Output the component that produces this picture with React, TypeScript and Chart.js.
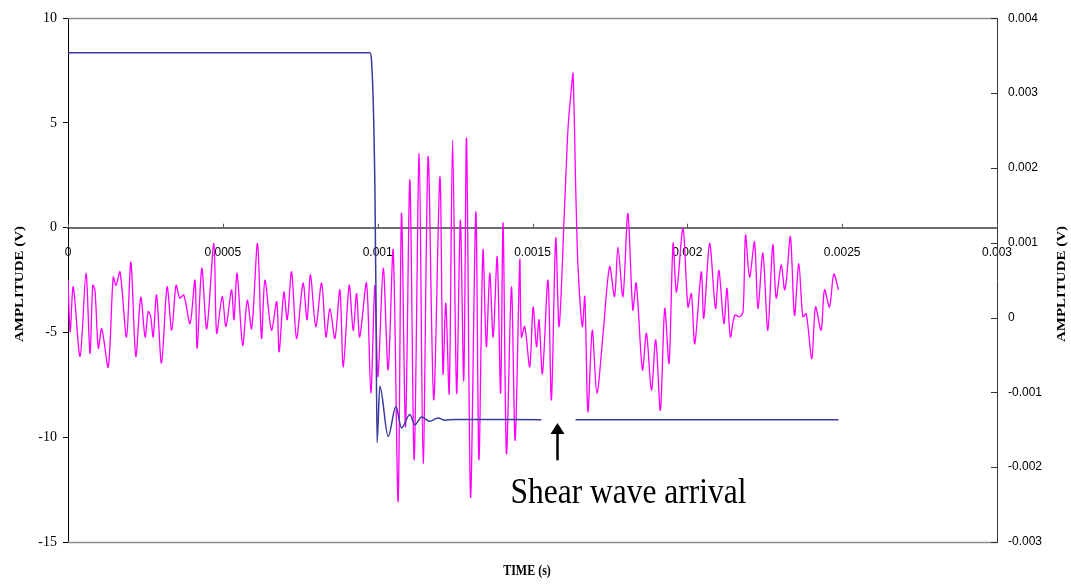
import React, { useEffect, useRef } from "react";
import { Chart, registerables } from "chart.js";

Chart.register(...registerables);

// ---- data ----
const xTickValues = [0, 0.0005, 0.001, 0.0015, 0.002, 0.0025, 0.003];
const xTickLabels = ["0", "0.0005", "0.001", "0.0015", "0.002", "0.0025", "0.003"];
const leftTickLabels = ["-15", "-10", "-5", "0", "5", "10"];
const rightTickLabels = ["-0.003", "-0.002", "-0.001", "0", "0.001", "0.002", "0.003", "0.004"];

// Trigger (blue) signal, left axis (V); time in microseconds
const blueTimeUs = [0, 975, 980, 991, 994, 998, 1007, 1034, 1059, 1077, 1104, 1120, 1142, 1168, 1195, 1217, 1249, 1529, 1584, 1639, 2488];
const blueVolts = [8.35, 8.35, 8.0, 1.97, -2.48, -10.26, -7.57, -9.96, -8.53, -9.56, -8.92, -9.4, -9.03, -9.24, -9.08, -9.19, -9.15, -9.16, null, -9.16, -9.16];

// Received (magenta) signal, right axis; time in microseconds, values in mV
const pinkTimeUs = [
  0, 7, 17, 39, 58, 71, 80, 87, 98, 109, 130, 146, 155, 168, 189, 203, 219, 235, 249, 259, 267, 275, 286, 302, 320,
  335, 349, 361, 374, 394, 410, 417, 432, 448, 471, 480, 498, 510, 528, 536, 546, 564, 579, 593, 612,
  625, 636, 657, 674, 682, 697, 708, 722, 738, 759, 772, 783, 800, 819, 833, 846, 862, 878, 889, 908, 921, 932, 942, 964,
  978, 991, 1001, 1018, 1034, 1050, 1066, 1077, 1090, 1104, 1118, 1134, 1147, 1163, 1181, 1201, 1211, 1220, 1231, 1242,
  1255, 1267, 1278, 1287, 1300, 1317, 1327, 1340, 1351, 1362, 1373, 1386, 1397, 1405, 1416, 1432, 1444,
  1459, 1464, 1475, 1491, 1502, 1513, 1521, 1532, 1550, 1561, 1575, 1586, 1604, 1615, 1626, 1631, 1640, 1647, 1661, 1669,
  1679, 1693, 1708, 1728, 1749, 1765, 1776, 1792, 1808, 1824, 1835, 1855, 1868, 1884, 1898, 1913,
  1927, 1941, 1954, 1965, 1986, 2002, 2013, 2024, 2045, 2053, 2072, 2091, 2102, 2118, 2128, 2139, 2153, 2169, 2180, 2188,
  2201, 2217, 2228, 2244, 2260, 2276, 2287, 2303, 2314, 2320, 2333, 2346, 2360, 2373, 2384, 2402, 2414, 2432, 2443, 2459,
  2473, 2488,
];
const pinkMilliVolts = [
  0.5, -0.19, 0.41, -0.52, 0.59, -0.48, 0.43, 0.37, -0.41, -0.15, -0.66, 0.54, 0.43, 0.61, -0.26, 0.74, -0.52, 0.27, -0.26, 0.08, 0.01, -0.26, 0.3, -0.61, 0.41,
  -0.17, 0.43, 0.26, 0.3, -0.08, 0.5, -0.41, 0.66, -0.15, 0.99, -0.21, 0.28, -0.12, 0.37, -0.03, 0.59, -0.37, 0.23, -0.15, 0.99,
  -0.28, 0.5, -0.17, 0.21, -0.46, 0.34, -0.03, 0.61, -0.28, 0.46, -0.03, 0.57, -0.12, 0.46, -0.26, 0.12, -0.28, 0.37, -0.66, 0.43, -0.17, 0.32, -0.26, 0.46,
  -1.01, 0.43, -0.79, 0.66, -0.7, 0.9, -2.46, 1.39, -1.46, 1.84, -1.9, 2.19, -1.95, 2.15, -1.1, 1.88, -0.75, 0.19, -1.01, 2.37,
  -1.01, 1.3, -0.84, 2.39, -2.4, 1.41, -1.9, 0.9, -0.39, 0.59, -0.26, 0.81, -1.01, 1.26, -1.82, 0.41, -1.64,
  0.77, -0.26, -0.12, -0.66, 0.14, -0.39, -0.03, -0.75, 0.5, -1.1, 1.06, -0.12, 1.52, 2.55, 3.08, 3.26, 1.66, 0.68, -0.12, 0.28,
  -1.26, -0.17, -1.01, -0.21, 0.68, 0.28, 0.94, 0.28, 1.39, 0.1, 0.46, -0.7, -0.21, -0.97, -0.3, -1.24,
  0.12, -0.61, 0.99, 0.34, 1.19, 0.14, 0.32, -0.35, 0.61, -0.01, 0.99, 0.12, 0.63, -0.08, 0.39, -0.26, 0.03, 0.01, 0.08, 1.1,
  0.54, 1.01, 0.12, 0.86, -0.17, 0.97, 0.26, 0.7, 0.37, 0.5, 1.08, 0.03, 0.72, 0.01, 0.05, -0.55, 0.14, -0.17, 0.37, 0.14,
  0.58, 0.37,
];

// annotation (in data units of x / left y axis)
const arrowTime = 0.00158;
const arrowTipV = -9.32;
const arrowTailV = -11.1;
const noteTime = 0.00181;
const noteV = -13.14;
const noteText = "Shear wave arrival";

const W = 1071;
const H = 585;

const decorPlugin = {
  id: "decor",
  afterDraw(chart: any) {
    const ctx = chart.ctx as CanvasRenderingContext2D;
    const { left, right, top, bottom } = chart.chartArea;
    const xs = chart.scales.x;
    const ys = chart.scales.y;
    const y1 = chart.scales.y1;
    ctx.save();

    // frame top / bottom
    ctx.strokeStyle = "#8c8c8c";
    ctx.lineWidth = 1.5;
    ctx.beginPath();
    ctx.moveTo(left, Math.round(top) + 0.5);
    ctx.lineTo(right, Math.round(top) + 0.5);
    ctx.moveTo(left, Math.round(bottom) + 0.5);
    ctx.lineTo(right, Math.round(bottom) + 0.5);
    ctx.stroke();

    // x ticks pointing up from the zero line
    const zero = ys.getPixelForValue(0);
    ctx.strokeStyle = "#555";
    ctx.lineWidth = 1;
    ctx.beginPath();
    xs.ticks.forEach((t: any) => {
      const px = Math.round(xs.getPixelForValue(t.value)) + 0.5;
      ctx.moveTo(px, zero);
      ctx.lineTo(px, zero - 4);
    });
    ctx.stroke();

    // right axis ticks pointing inward
    ctx.strokeStyle = "#333";
    ctx.beginPath();
    y1.ticks.forEach((t: any) => {
      const py = Math.round(y1.getPixelForValue(t.value)) + 0.5;
      ctx.moveTo(right, py);
      ctx.lineTo(right - 6, py);
    });
    ctx.stroke();

    // arrow
    const ax = Math.round(xs.getPixelForValue(arrowTime)) + 0.5;
    const tipY = ys.getPixelForValue(arrowTipV);
    const tailY = ys.getPixelForValue(arrowTailV);
    ctx.strokeStyle = "#000";
    ctx.fillStyle = "#000";
    ctx.lineWidth = 2.5;
    ctx.beginPath();
    ctx.moveTo(ax, tipY + 8);
    ctx.lineTo(ax, tailY);
    ctx.stroke();
    ctx.beginPath();
    ctx.moveTo(ax, tipY);
    ctx.lineTo(ax - 7, tipY + 11);
    ctx.lineTo(ax + 7, tipY + 11);
    ctx.closePath();
    ctx.fill();

    // annotation text
    ctx.save();
    ctx.translate(xs.getPixelForValue(noteTime), ys.getPixelForValue(noteV));
    ctx.scale(0.874, 1);
    ctx.font = '36px "Liberation Serif", "Times New Roman", serif';
    ctx.textAlign = "center";
    ctx.textBaseline = "alphabetic";
    ctx.fillText(noteText, 0, 0);
    ctx.restore();

    // axis titles
    ctx.font = 'bold 13px "Liberation Serif", "Times New Roman", serif';
    ctx.textAlign = "center";
    ctx.textBaseline = "middle";
    ctx.save();
    ctx.translate(20, 284);
    ctx.rotate(-Math.PI / 2);
    ctx.scale(1.15, 1);
    ctx.fillText("AMPLITUDE (V)", 0, 0);
    ctx.restore();

    ctx.save();
    ctx.translate(1062, 284);
    ctx.rotate(-Math.PI / 2);
    ctx.scale(1.15, 1);
    ctx.fillText("AMPLITUDE (V)", 0, 0);
    ctx.restore();

    ctx.save();
    ctx.translate(527, 575);
    ctx.scale(1, 1.15);
    ctx.font = 'bold 12px "Liberation Serif", "Times New Roman", serif';
    ctx.textBaseline = "alphabetic";
    ctx.fillText("TIME (s)", 0, 0);
    ctx.restore();

    ctx.restore();
  },
};

export default function App() {
  const canvasRef = useRef<HTMLCanvasElement | null>(null);

  useEffect(() => {
    if (!canvasRef.current) return;
    const blueData = blueTimeUs.map((t, i) => ({ x: t / 1e6, y: blueVolts[i] }));
    const pinkData = pinkTimeUs.map((t, i) => ({ x: t / 1e6, y: pinkMilliVolts[i] / 1000 }));

    const chart = new Chart(canvasRef.current, {
      type: "line",
      data: {
        datasets: [
          {
            label: "Trigger",
            data: blueData as any,
            borderColor: "#3a3a9c",
            borderWidth: 1.5,
            pointRadius: 0,
            spanGaps: false,
            yAxisID: "y",
            cubicInterpolationMode: "monotone",
          },
          {
            label: "Receiver",
            data: pinkData as any,
            borderColor: "#ff00ff",
            borderWidth: 1.3,
            pointRadius: 0,
            yAxisID: "y1",
            tension: 0.3,
          },
        ],
      },
      options: {
        responsive: false,
        animation: false,
        parsing: false as any,
        normalized: true,
        layout: { padding: { top: 18, bottom: 43, left: 0, right: 0 } },
        plugins: { legend: { display: false }, tooltip: { enabled: false } },
        scales: {
          x: {
            type: "linear",
            position: { y: 0 } as any,
            min: 0,
            max: 0.003,
            afterBuildTicks: (s: any) => {
              s.ticks = xTickValues.map((v) => ({ value: v }));
            },
            ticks: {
              autoSkip: false,
              maxRotation: 0,
              padding: 18,
              color: "#000",
              font: { family: '"Liberation Sans", Arial, sans-serif', size: 12 },
              callback: (v: any, i: number) => xTickLabels[i],
            },
            grid: { drawOnChartArea: false, drawTicks: false },
            border: { display: true, color: "#6e6e6e", width: 2 },
          },
          y: {
            type: "linear",
            position: "left",
            min: -15,
            max: 10,
            afterBuildTicks: (s: any) => {
              s.ticks = leftTickLabels.map((l) => ({ value: Number(l) }));
            },
            afterFit: (s: any) => {
              s.width = 68;
            },
            ticks: {
              padding: 6,
              color: "#000",
              font: { family: '"Liberation Serif", "Times New Roman", serif', size: 14 },
              callback: (v: any, i: number) => leftTickLabels[i],
            },
            grid: { drawOnChartArea: false, drawTicks: true, tickLength: 5, color: "#000" },
            border: { display: true, color: "#000", width: 1 },
          },
          y1: {
            type: "linear",
            position: "right",
            min: -0.003,
            max: 0.004,
            afterBuildTicks: (s: any) => {
              s.ticks = rightTickLabels.map((l) => ({ value: Number(l) }));
            },
            afterFit: (s: any) => {
              s.width = 74;
            },
            ticks: {
              padding: 11,
              color: "#000",
              font: { family: '"Liberation Sans", Arial, sans-serif', size: 12 },
              callback: (v: any, i: number) => rightTickLabels[i],
            },
            grid: { drawOnChartArea: false, drawTicks: false },
            border: { display: true, color: "#333", width: 1 },
          },
        },
      },
      plugins: [decorPlugin],
    });
    return () => chart.destroy();
  }, []);

  return (
    <div style={{ position: "fixed", left: 0, top: 0, width: W, height: H, background: "#fff" }}>
      <canvas ref={canvasRef} width={W} height={H} style={{ display: "block", width: W, height: H }} />
    </div>
  );
}
